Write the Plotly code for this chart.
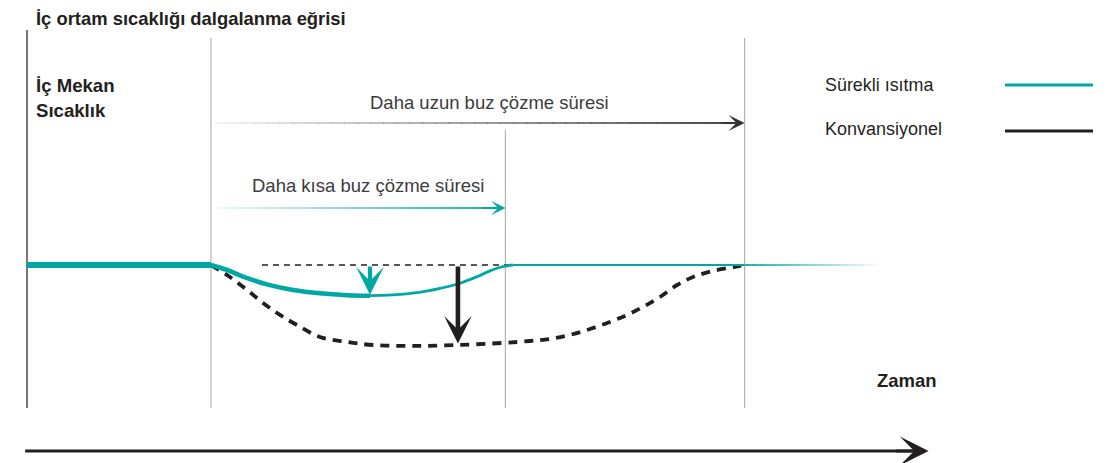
import plotly.graph_objects as go

# ---- data (time in arbitrary units, indoor temperature in arbitrary units) ----
phase_times = [0, 10, 26, 39]          # start, defrost begins, short defrost end, long defrost end
base_temp = 20

# continuous heating (teal)
cont_t = [10, 10.87, 11.74, 13.04, 14.46, 15.92, 17.39, 18.64, 19.89, 21.20, 22.45, 23.53, 24.46, 25.16, 25.82, 26.41]
cont_T = [20, 19.69, 19.27, 18.79, 18.44, 18.23, 18.11, 18.08, 18.13, 18.27, 18.54, 18.86, 19.27, 19.63, 19.89, 20]

# conventional (black dashed)
conv_t = [10, 11.03, 11.96, 12.83, 13.75, 14.67, 15.92, 17.39, 18.80, 20.98, 23.37, 25.87, 27.34,
          28.42, 29.51, 30.60, 31.68, 32.61, 33.48, 34.40, 35.33, 36.20, 37.28, 38.48, 39]
conv_T = [20, 19.25, 18.44, 17.63, 16.88, 16.25, 15.5, 15.19, 15.0, 14.94, 15.0, 15.13, 15.25,
          15.38, 15.63, 16.0, 16.44, 16.88, 17.38, 18.0, 18.75, 19.25, 19.63, 19.88, 20]

cont_drop_t, cont_min_T = 18.64, 18.08
conv_drop_t, conv_min_T = 23.42, 14.94
ref_line_t = [12.77, 36.03]
tail_end_t = 46.5
time_arrow_t = [-0.1, 49]

TEAL = (0, 168, 164)
DARK = (35, 31, 32)
FONT = "Liberation Sans, Arial, sans-serif"

W, H = 1106, 463
PX_PER_T, X0 = 18.4, 27
PX_PER_TEMP, Y0 = 16, 265
x_range = [-X0 / PX_PER_T, (W - X0) / PX_PER_T]
y_range = [base_temp - (H - Y0) / PX_PER_TEMP, base_temp + Y0 / PX_PER_TEMP]


def temp_at_px(py):
    return base_temp - (py - Y0) / PX_PER_TEMP


def rgba(c, a):
    return f"rgba({c[0]},{c[1]},{c[2]},{a:.3f})"


fig = go.Figure()


def seg(xs, ys, color, width, dash=None, shape="linear"):
    fig.add_trace(go.Scatter(x=xs, y=ys, mode="lines", hoverinfo="skip", showlegend=False,
                             line=dict(color=color, width=width, dash=dash, shape=shape)))


def fading(t0, t1, y, c, width, a0, a1, n=40):
    for i in range(n):
        ta = t0 + (t1 - t0) * i / n
        tb = t0 + (t1 - t0) * (i + 1.05) / n
        a = a0 + (a1 - a0) * (i + 0.5) / n
        seg([ta, min(tb, t1)], [y, y], rgba(c, a), width)


# vertical phase lines
for i, t in enumerate(phase_times):
    top = {0: 30, 1: 38, 2: 130, 3: 38}[i]
    seg([t, t], [temp_at_px(top), temp_at_px(408)],
        "#555555" if i == 0 else "#b4b4b4", 1.6 if i == 0 else 1.2)

# dashed reference at the set temperature
seg(ref_line_t, [base_temp, base_temp], rgba(DARK, 1), 1.4, dash="6px,5px")

# conventional curve
seg(conv_t, conv_T, rgba(DARK, 1), 3.8, dash="9px,7px", shape="spline")

# continuous heating: steady part, dip (thicker on the way down) and recovery tail
seg([phase_times[0], phase_times[1]], [base_temp, base_temp], rgba(TEAL, 1), 6)
seg(cont_t, cont_T, rgba(TEAL, 1), 2.8, shape="spline")
seg(cont_t[:8], cont_T[:8], rgba(TEAL, 1), 4.6, shape="spline")
seg([cont_t[-1], phase_times[3]], [base_temp, base_temp], rgba(TEAL, 1), 2)
fading(phase_times[3], tail_end_t, base_temp, TEAL, 2, 0.9, 0.0)

# duration arrows (fading shafts)
long_y = temp_at_px(123)
short_y = temp_at_px(208)
fading(phase_times[1] + 0.2, phase_times[3] - 0.6, long_y, (51, 51, 51), 1.8, 0.05, 1.0)
fading(phase_times[1] + 0.2, phase_times[2] - 0.6, short_y, TEAL, 1.8, 0.05, 1.0)

# time axis shaft
seg([time_arrow_t[0], time_arrow_t[1] - 0.8], [temp_at_px(451)] * 2, rgba(DARK, 1), 3)

annotations = []


def arrow(x, y, ax, ay, color, width, size, head=3, axref="x", ayref="y"):
    annotations.append(dict(x=x, y=y, ax=ax, ay=ay, xref="x", yref="y", axref=axref, ayref=ayref,
                            text="", showarrow=True, arrowhead=head, arrowwidth=width,
                            arrowsize=size, arrowcolor=color, standoff=0))


# drop arrows
arrow(cont_drop_t, cont_min_T + 0.06, cont_drop_t, base_temp, rgba(TEAL, 1), 4.2, 1.1)
arrow(conv_drop_t, conv_min_T + 0.15, conv_drop_t, base_temp, rgba(DARK, 1), 4.6, 1.0)
# arrow heads of duration arrows and time axis
arrow(phase_times[3], long_y, -24, 0, "#333333", 1.8, 1.5, axref="pixel", ayref="pixel")
arrow(phase_times[2], short_y, -24, 0, rgba(TEAL, 1), 1.8, 1.35, axref="pixel", ayref="pixel")
arrow(time_arrow_t[1], temp_at_px(451), -34, 0, rgba(DARK, 1), 3, 1.6, axref="pixel", ayref="pixel")


def text(s, px, py, size, bold=False, color="#231f20", xanchor="left"):
    annotations.append(dict(x=px / W, y=1 - py / H, xref="paper", yref="paper", text=f"<b>{s}</b>" if bold else s,
                            showarrow=False, xanchor=xanchor, yanchor="middle",
                            font=dict(family=FONT, size=size, color=color)))


text("İç ortam sıcaklığı dalgalanma eğrisi", 34, 18, 18.4, bold=True)
text("İç Mekan", 34, 86, 18.6, bold=True)
text("Sıcaklık", 34, 110, 18.6, bold=True)
text("Daha uzun buz çözme süresi", 489, 103, 18.5, color="#3c3c3c", xanchor="center")
text("Daha kısa buz çözme süresi", 368, 186, 18.5, color="#3c3c3c", xanchor="center")
text("Sürekli ısıtma", 823, 85, 17.9, color="#231f20")
text("Konvansiyonel", 823, 129, 18.0, color="#231f20")
text("Zaman", 907, 380, 18.5, bold=True, xanchor="center")

shapes = [
    dict(type="line", xref="paper", yref="paper", x0=1005 / W, x1=1093 / W, y0=1 - 85 / H, y1=1 - 85 / H,
         line=dict(color=rgba(TEAL, 1), width=3)),
    dict(type="line", xref="paper", yref="paper", x0=1005 / W, x1=1093 / W, y0=1 - 131 / H, y1=1 - 131 / H,
         line=dict(color=rgba(DARK, 1), width=3)),
]

fig.update_layout(
    width=W, height=H, margin=dict(l=0, r=0, t=0, b=0),
    paper_bgcolor="white", plot_bgcolor="white",
    xaxis=dict(range=x_range, visible=False, fixedrange=True),
    yaxis=dict(range=y_range, visible=False, fixedrange=True),
    annotations=annotations, shapes=shapes, showlegend=False,
)

fig.write_html("out.html", config={"displayModeBar": False})
